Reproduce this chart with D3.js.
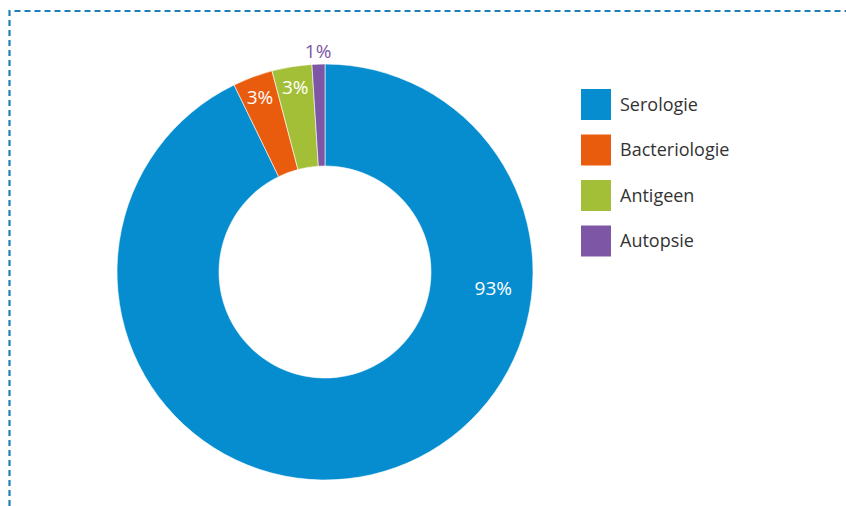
<!DOCTYPE html>
<html>
<head>
<meta charset="utf-8">
<script src="https://cdn.jsdelivr.net/npm/d3@7/dist/d3.min.js"></script>
<style>
  html, body { margin: 0; padding: 0; background: #fff; }
  svg { display: block; font-family: "Open Sans", "Noto Sans", sans-serif; }
</style>
</head>
<body>
<div id="chart"></div>
<script>
// Data
const categories = ['Serologie', 'Bacteriologie', 'Antigeen', 'Autopsie'];
const shares = [92.8, 3.1, 3.1, 1.0];
const colors = ['#068dd0', '#e95c0e', '#a3bf38', '#7e56a6'];

const W = 846, H = 506;
const cx = 325, cy = 272;
const outerR = 208, innerR = 106;

const svg = d3.select('#chart')
  .append('svg')
  .attr('width', W)
  .attr('height', H);

// dashed frame (top + left only)
svg.append('path')
  .attr('d', `M9.5,${H} V11 H${W}`)
  .attr('fill', 'none')
  .attr('stroke', '#1f7db8')
  .attr('stroke-width', 2.2)
  .attr('stroke-dasharray', '6,4');

const color = d3.scaleOrdinal().domain(categories).range(colors);

const pie = d3.pie().sort(null).value(d => d.value);
const arc = d3.arc().innerRadius(innerR).outerRadius(outerR);

const data = categories.map((c, i) => ({ name: c, value: shares[i] }));
const total = d3.sum(shares);
const tiny = d => (d.endAngle - d.startAngle) < 0.1;

const g = svg.append('g').attr('transform', `translate(${cx},${cy})`);

g.selectAll('path.slice')
  .data(pie(data))
  .enter()
  .append('path')
  .attr('class', 'slice')
  .attr('d', arc)
  .attr('fill', d => color(d.data.name))
  .attr('stroke', '#fff')
  .attr('stroke-width', 0.6);

// labels: big slice gets its label just below 3 o'clock, small ones near the rim,
// the tiniest one sits outside the ring
const labelPos = d => {
  const span = d.endAngle - d.startAngle;
  let a = (d.startAngle + d.endAngle) / 2;
  let r = 187;
  if (span > Math.PI) { a = Math.PI / 2 + 0.095; r = 169; }
  else if (tiny(d)) { r = 221; }
  return [Math.sin(a) * r, -Math.cos(a) * r];
};

g.selectAll('text.lbl')
  .data(pie(data))
  .enter()
  .append('text')
  .attr('class', 'lbl')
  .attr('transform', d => `translate(${labelPos(d)})`)
  .attr('text-anchor', 'middle')
  .attr('dy', '0.36em')
  .attr('font-size', 19)
  .attr('fill', d => tiny(d) ? color(d.data.name) : '#fff')
  .text(d => Math.round(d.data.value / total * 100) + '%');

// legend
const legend = svg.append('g')
  .attr('transform', 'translate(581,89)');

const item = legend.selectAll('g.item')
  .data(categories)
  .enter()
  .append('g')
  .attr('class', 'item')
  .attr('transform', (d, i) => `translate(0,${i * 45.5})`);

item.append('rect')
  .attr('width', 30)
  .attr('height', 31)
  .attr('fill', d => color(d));

item.append('text')
  .attr('x', 39)
  .attr('y', 15.5)
  .attr('dy', '0.36em')
  .attr('font-size', 18)
  .attr('fill', '#333')
  .text(d => d);
</script>
</body>
</html>
